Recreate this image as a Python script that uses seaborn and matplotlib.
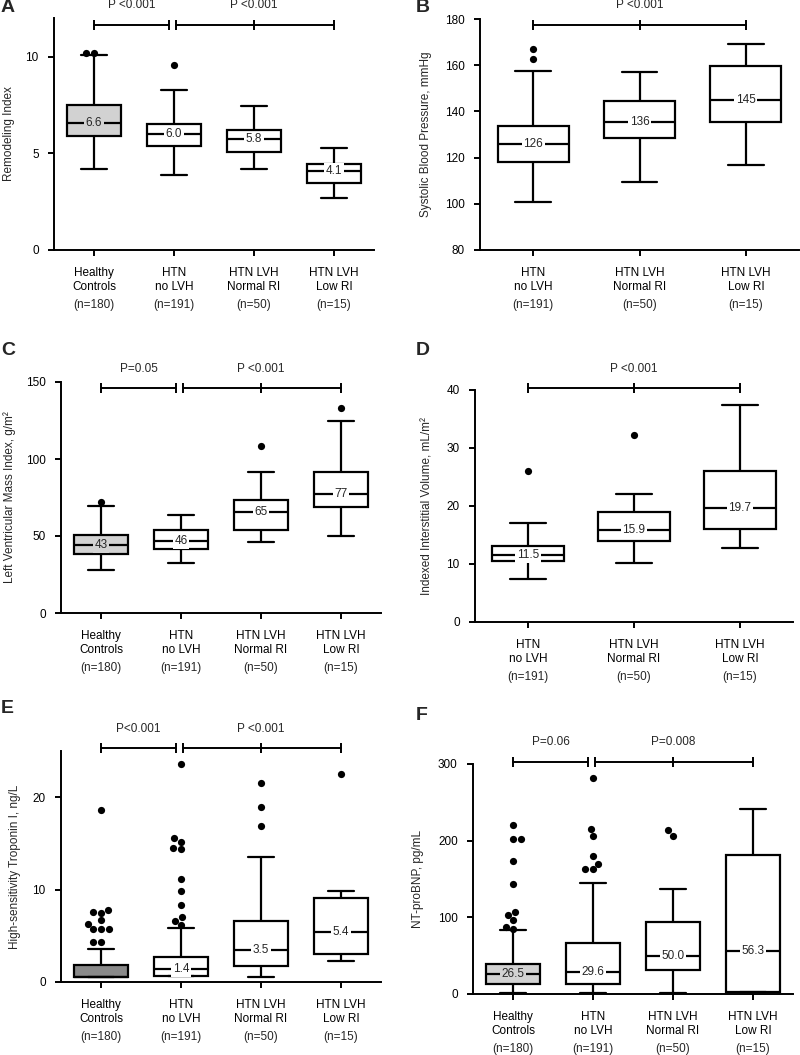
import numpy as np
import pandas as pd
import matplotlib
matplotlib.use("Agg")
import matplotlib.pyplot as plt
import seaborn as sns

# categorias e tamanhos de amostra
CAT4 = ["Healthy\nControls", "HTN\nno LVH", "HTN LVH\nNormal RI", "HTN LVH\nLow RI"]
N4 = ["(n=180)", "(n=191)", "(n=50)", "(n=15)"]
CAT3 = CAT4[1:]
N3 = N4[1:]

# A - Remodeling Index
a_low = [4.18, 3.90, 4.18, 2.68]
a_q1 = [5.91, 5.36, 5.07, 3.44]
a_med = [6.58, 5.98, 5.72, 4.09]
a_q3 = [7.51, 6.53, 6.19, 4.43]
a_high = [10.09, 8.28, 7.47, 5.29]
a_labels = ["6.6", "6.0", "5.8", "4.1"]
a_out = [[10.17, 10.17], [9.57], [], []]
a_p = ["P <0.001", "P <0.001"]

# B - Systolic blood pressure
b_low = [100.8, 109.6, 116.8]
b_q1 = [118.0, 128.3, 135.2]
b_med = [125.8, 135.6, 144.9]
b_q3 = [133.5, 144.7, 159.5]
b_high = [157.7, 157.0, 169.0]
b_labels = ["126", "136", "145"]
b_out = [[166.8, 162.8], [], []]
b_p = ["P <0.001"]

# C - LV mass index
c_low = [27.9, 32.3, 46.3, 50.2]
c_q1 = [38.3, 41.6, 53.9, 68.8]
c_med = [43.9, 46.5, 65.4, 77.5]
c_q3 = [50.9, 53.7, 73.6, 91.6]
c_high = [69.5, 63.4, 91.3, 124.7]
c_labels = ["43", "46", "65", "77"]
c_out = [[72.3], [], [108.2], [133.1]]
c_p = ["P=0.05", "P <0.001"]

# D - Indexed interstitial volume
d_low = [7.48, 10.24, 12.83]
d_q1 = [10.53, 13.93, 16.0]
d_med = [11.51, 15.83, 19.74]
d_q3 = [13.06, 18.88, 25.96]
d_high = [17.15, 21.99, 37.35]
d_labels = ["11.5", "15.9", "19.7"]
d_out = [[25.96], [32.29], []]
d_p = ["P <0.001"]

# E - hs Troponin I
e_low = [0.55, 0.6, 0.57, 2.26]
e_q1 = [0.55, 0.6, 1.69, 3.02]
e_med = [0.55, 1.40, 3.48, 5.42]
e_q3 = [1.85, 2.66, 6.61, 9.12]
e_high = [3.59, 5.85, 13.5, 9.84]
e_labels = [None, "1.4", "3.5", "5.4"]
e_out = [[18.64, 7.79, 7.61, 7.50, 6.71, 6.25, 5.71, 5.71, 5.71, 4.38, 4.31],
         [23.6, 15.6, 15.2, 14.5, 14.4, 11.2, 9.87, 8.33, 7.07, 6.64, 6.14],
         [21.5, 18.9, 16.9],
         [22.5]]
e_p = ["P<0.001", "P <0.001"]

# F - NT-proBNP
f_low = [1.3, 1.3, 1.3, 3.0]
f_q1 = [13.0, 13.5, 30.8, 3.0]
f_med = [26.05, 29.1, 49.1, 55.6]
f_q3 = [39.5, 66.0, 94.2, 181.9]
f_high = [82.9, 144.6, 137.2, 241.0]
f_labels = ["26.5", "29.6", "50.0", "56.3"]
f_out = [[220.6, 202.8, 201.9, 174.1, 143.7, 106.4, 103.3, 96.0, 87.3, 84.7],
         [282.2, 215.8, 206.7, 180.6, 169.8, 163.3, 162.8],
         [213.6, 206.3],
         []]
f_p = ["P=0.06", "P=0.008"]

LIGHT = "#d2d2d2"
DARK = "#8a8a8a"
W, H = 800, 1055
FS = 8.5


def rect(l, t, r, b):
    return [l / W, (H - b) / H, (r - l) / W, (b - t) / H]


def panel(fig, box_px, letter, letter_px, cats, ns, low, q1, med, q3, high,
          labels, outs, colors, ylim, yticks, ylabel, ylabel_x, pvals, p_y):
    ax = fig.add_axes(rect(*box_px))
    rows = []
    for g, vals in zip(cats, zip(low, q1, med, q3, high)):
        for v in vals:
            rows.append({"group": g, "value": v})
    df = pd.DataFrame(rows)
    pal = dict(zip(cats, colors))
    sns.boxplot(data=df, x="group", y="value", order=cats, hue="group",
                hue_order=cats, palette=pal, whis=(0, 100), width=0.67,
                linecolor="black", linewidth=1.6, legend=False, ax=ax,
                saturation=1)
    out_rows = [{"group": g, "value": v} for g, vs in zip(cats, outs) for v in vs]
    out_df = pd.DataFrame(out_rows)
    sns.swarmplot(data=out_df, x="group", y="value", order=cats,
                  color="black", size=5.2, ax=ax, zorder=5)

    for i, (m, lab) in enumerate(zip(med, labels)):
        if lab is None:
            continue
        ax.text(i, m, lab, ha="center", va="center", fontsize=FS, zorder=6,
                bbox=dict(facecolor=colors[i], edgecolor="none", pad=1.2))

    ax.set_xlim(-0.5, len(cats) - 0.5)
    ax.set_ylim(*ylim)
    ax.set_yticks(yticks)
    ax.set_xlabel("")
    ax.set_ylabel(ylabel, fontsize=FS)
    l, t, r, b = box_px
    # o rótulo é ancorado pelo lado direito do texto girado
    ax.yaxis.set_label_coords((ylabel_x + 6 - l) / (r - l), 0.5)
    ax.set_xticks(range(len(cats)))
    ax.set_xticklabels(cats, fontsize=FS, linespacing=1.2)
    ax.tick_params(axis="x", length=4, width=1.4, pad=8.5)
    ax.tick_params(axis="y", length=4, width=1.4, pad=7, labelsize=FS)
    for s in ["left", "bottom"]:
        ax.spines[s].set_linewidth(1.4)
    sns.despine(ax=ax)
    for i, n in enumerate(ns):
        ax.annotate(n, xy=(i, 0), xycoords=ax.get_xaxis_transform(),
                    xytext=(0, -39.5), textcoords="offset points",
                    ha="center", va="center", fontsize=FS, annotation_clip=False)

    # barras de significancia
    k = len(cats)
    if k == 4:
        segs = [([0, 0.94], 0.47), ([1.02, 2, 3], 2)]
    else:
        segs = [([0, 1, 2], 1)]
    for (xs, xt), p in zip(segs, pvals):
        ax.plot(xs, [p_y] * len(xs), color="black", lw=1.4, marker="|",
                ms=7, mew=1.4, clip_on=False)
        ax.annotate(p, xy=(xt, p_y), xytext=(0, 14), textcoords="offset points",
                    ha="center", va="center", fontsize=FS, annotation_clip=False)

    fig.text(letter_px[0] / W, 1 - letter_px[1] / H, letter, fontsize=14,
             fontweight="bold", ha="left", va="top")
    return ax


def main():
    sns.set_style("ticks")
    plt.rcParams["font.family"] = ["Liberation Sans", "DejaVu Sans"]
    plt.rcParams["axes.edgecolor"] = "black"
    plt.rcParams["xtick.color"] = "black"
    plt.rcParams["ytick.color"] = "black"

    fig = plt.figure(figsize=(8, 10.55), dpi=100)

    w4 = [LIGHT, "white", "white", "white"]
    w3 = ["white", "white", "white"]

    panel(fig, (54, 18, 374, 250), "A", (1, -1), CAT4, N4, a_low, a_q1, a_med,
          a_q3, a_high, a_labels, a_out, w4, (0, 12), [0, 5, 10],
          "Remodeling Index", 9, a_p, 11.65)
    panel(fig, (480, 19, 799, 250), "B", (416, -1), CAT3, N3, b_low, b_q1, b_med,
          b_q3, b_high, b_labels, b_out, w3, (80, 180), [80, 100, 120, 140, 160, 180],
          "Systolic Blood Pressure, mmHg", 426, b_p, 177.5)
    panel(fig, (61, 382, 381, 613), "C", (1, 342), CAT4, N4, c_low, c_q1, c_med,
          c_q3, c_high, c_labels, c_out, w4, (0, 150), [0, 50, 100, 150],
          "Left Ventricular Mass Index, g/m²", 10, c_p, 146)
    panel(fig, (475, 390, 793, 622), "D", (416, 342), CAT3, N3, d_low, d_q1, d_med,
          d_q3, d_high, d_labels, d_out, w3, (0, 40), [0, 10, 20, 30, 40],
          "Indexed Interstitial Volume, mL/m²", 428, d_p, 40.3)
    panel(fig, (61, 751, 381, 982), "E", (1, 700), CAT4, N4, e_low, e_q1, e_med,
          e_q3, e_high, e_labels, e_out, [DARK, "white", "white", "white"],
          (0, 25), [0, 10, 20], "High-sensitivity Troponin I, ng/L", 15, e_p, 25.3)
    panel(fig, (473, 764, 793, 994), "F", (416, 707), CAT4, N4, f_low, f_q1, f_med,
          f_q3, f_high, f_labels, f_out, w4, (0, 300), [0, 100, 200, 300],
          "NT-proBNP, pg/mL", 418, f_p, 303)

    fig.savefig("out.png", dpi=100, facecolor="white")
    plt.close(fig)


if __name__ == "__main__":
    main()
